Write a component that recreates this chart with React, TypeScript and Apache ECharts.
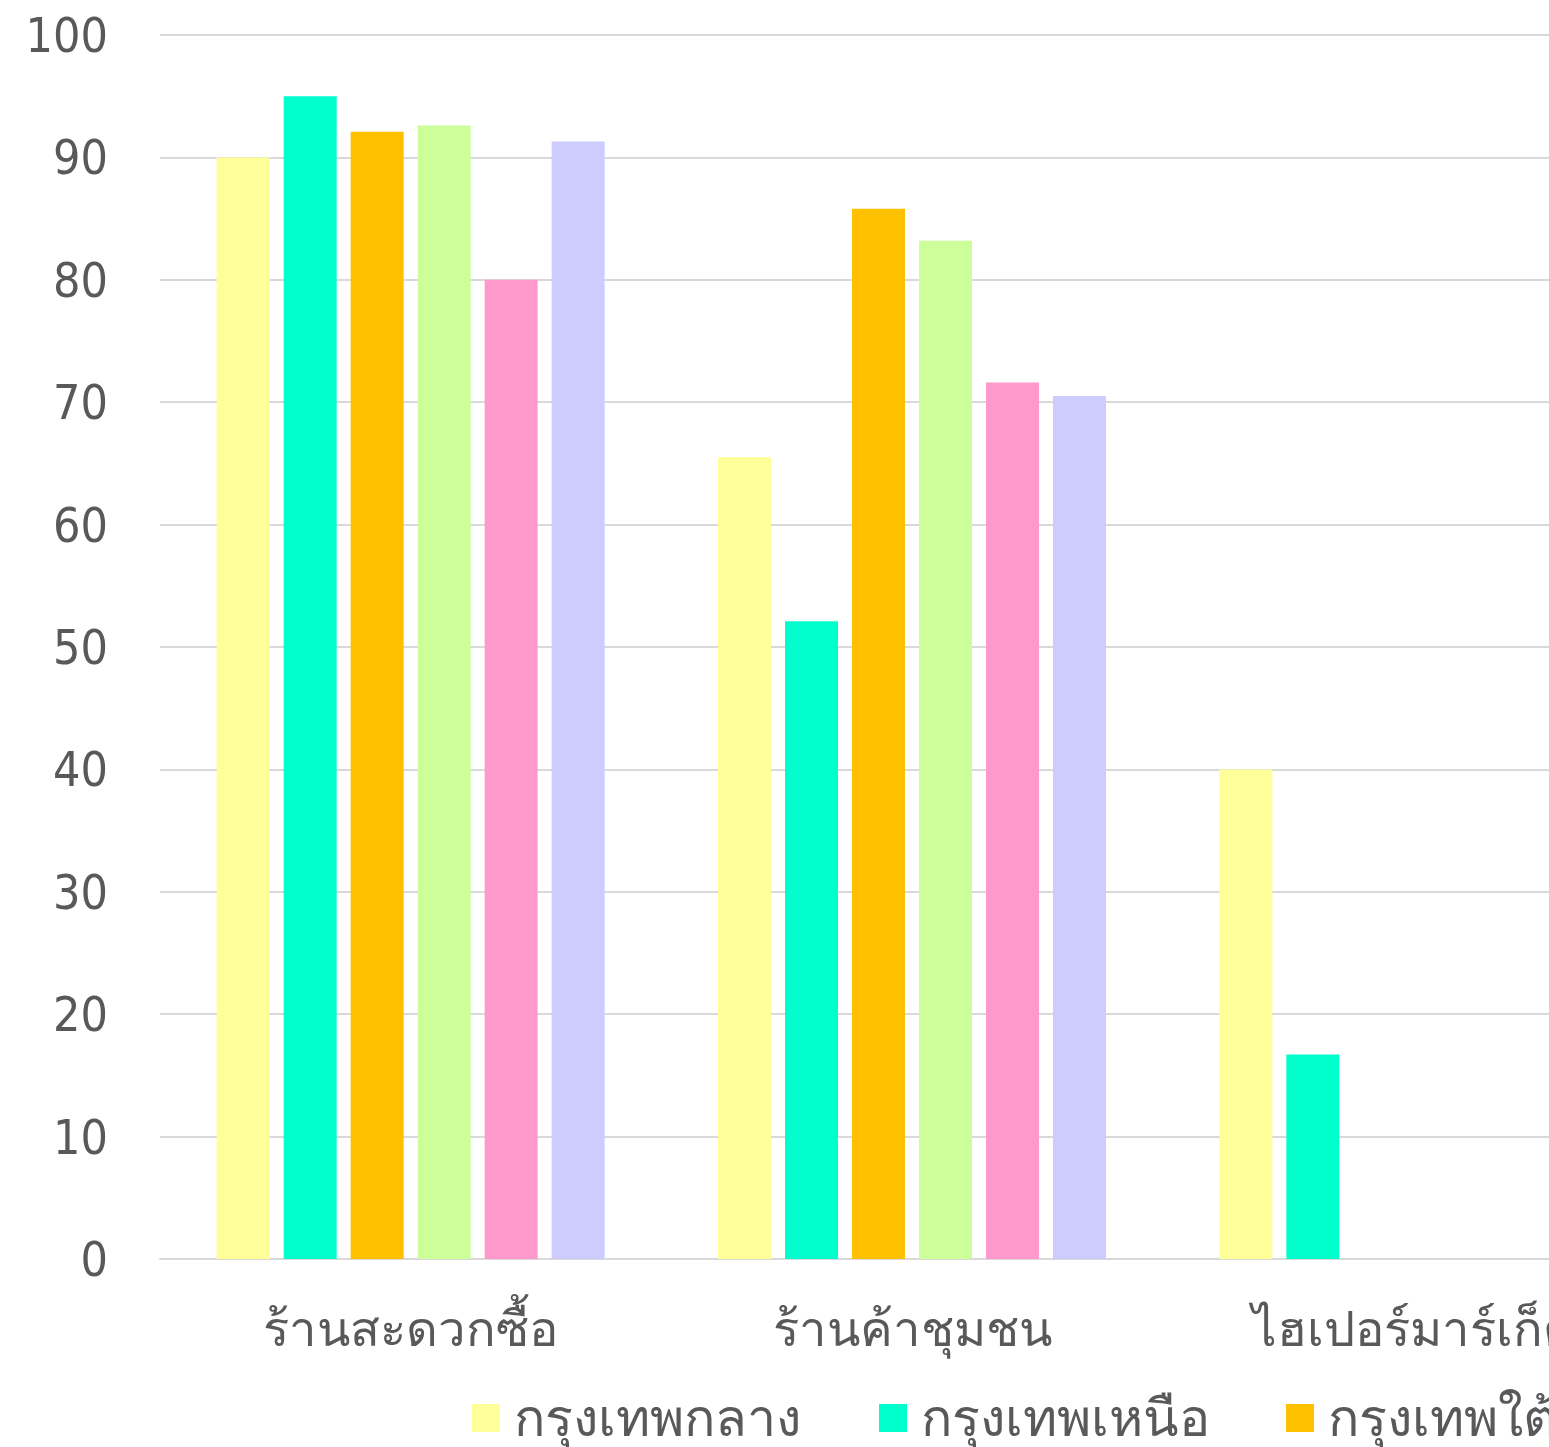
import React, { useEffect, useRef } from "react";
import * as echarts from "echarts";

const categories = ["ร้านสะดวกซื้อ", "ร้านค้าชุมชน", "ไฮเปอร์มาร์เก็ต"];
const seriesNames = ["กรุงเทพกลาง", "กรุงเทพเหนือ", "กรุงเทพใต้", "กรุงเทพตะวันออก", "กรุงธนเหนือ", "กรุงธนใต้"];
const seriesColors = ["#FFFF99", "#00FFCC", "#FFC000", "#CCFF99", "#FF99CC", "#CCCCFF"];
const centralValues = [90, 65.5, 40];
const northValues = [95, 52.1, 16.7];
const southValues = [92.1, 85.8, 0];
const eastValues = [92.6, 83.2, 0];
const thonNorthValues = [80, 71.6, 0];
const thonSouthValues = [91.3, 70.5, 0];
const allValues = [centralValues, northValues, southValues, eastValues, thonNorthValues, thonSouthValues];
const yTicks = { min: 0, max: 100, interval: 10 };

const FONT = "'DejaVu Sans Condensed', 'DejaVu Sans', 'Noto Sans', sans-serif";
const TEXT = "#595959";
const GRID = "#d9d9d9";

export default function App() {
  const ref = useRef<HTMLDivElement>(null);
  useEffect(() => {
    document.documentElement.style.overflow = "hidden";
    const chart = echarts.init(ref.current!, null, { renderer: "svg" });
    const legendLefts = [464, 871, 1278, 1685, 2092, 2499];
    chart.setOption({
      animation: false,
      textStyle: { fontFamily: FONT },
      grid: { left: 152, top: 27, width: 1504, height: 1224 },
      legend: seriesNames.map((n, i) => ({
        data: [n],
        left: legendLefts[i],
        top: 1382,
        padding: 0,
        itemWidth: 28,
        itemHeight: 28,
        icon: "rect",
        textStyle: { fontSize: 52, color: TEXT, fontFamily: FONT, lineHeight: 56, padding: [0, 0, 0, 9] },
      })),
      xAxis: {
        type: "category",
        data: categories,
        axisTick: { show: false },
        axisLine: { lineStyle: { color: GRID, width: 2 } },
        axisLabel: { fontSize: 49, color: TEXT, fontFamily: FONT, margin: 46 },
      },
      yAxis: {
        type: "value",
        min: yTicks.min,
        max: yTicks.max,
        interval: yTicks.interval,
        axisLine: { show: false },
        axisTick: { show: false },
        splitLine: { lineStyle: { color: GRID, width: 2 } },
        axisLabel: { fontSize: 48, color: TEXT, fontFamily: FONT, margin: 52 },
      },
      series: seriesNames.map((n, i) => ({
        name: n,
        type: "bar",
        data: allValues[i],
        barWidth: 53,
        barGap: "26.4%",
        itemStyle: { color: seriesColors[i] },
      })),
    });
    return () => chart.dispose();
  }, []);
  return (
    <div style={{ position: "fixed", left: 0, top: 0, width: "100vw", height: "100vh", overflow: "hidden" }}>
      <div ref={ref} style={{ position: "absolute", left: 8, top: 8, width: 2600, height: 1500 }} />
    </div>
  );
}
